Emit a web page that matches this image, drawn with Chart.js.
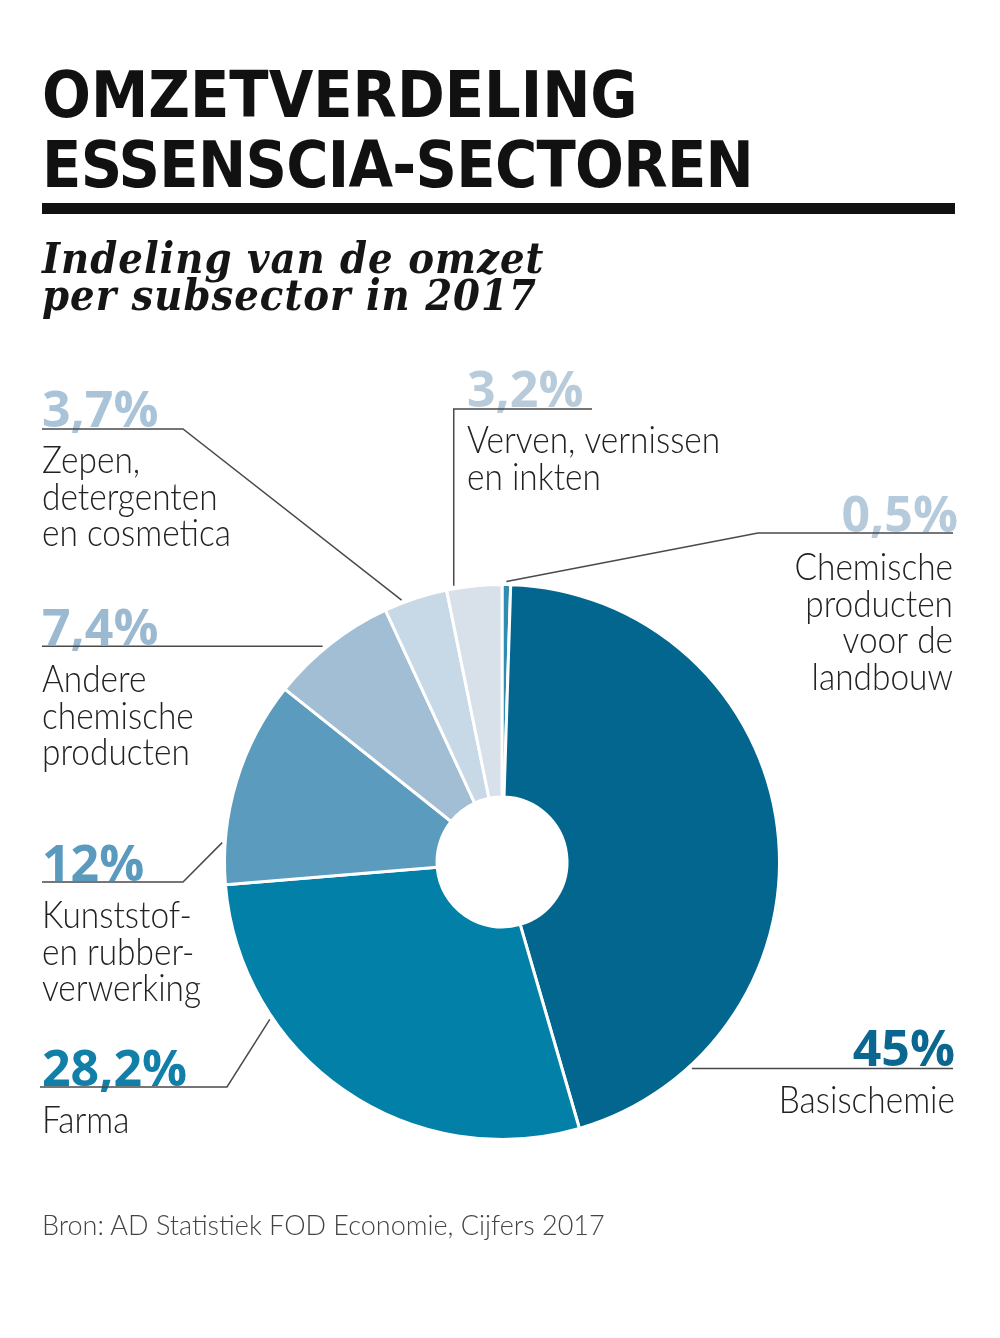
<!DOCTYPE html>
<html>
<head>
<meta charset="utf-8">
<script src="https://cdn.jsdelivr.net/npm/chart.js@4.4.0/dist/chart.umd.min.js"></script>
<style>
	body { margin: 0; background: #fff; }
	#page { position: relative; width: 1000px; height: 1338px; overflow: hidden; }
	#chartBox { position: absolute; left: 0; top: 0; width: 1000px; height: 1338px; }
	.title { position: absolute; left: 42px; top: 60px; margin: 0; color: #111;
		font: bold 64px/70px "DejaVu Sans Condensed", "DejaVu Sans"; font-stretch: condensed; white-space: nowrap; }
	.title span { letter-spacing: -0.7px; }
	.rule { position: absolute; left: 42px; top: 203px; width: 913px; height: 11px; background: #111; }
	.subtitle { position: absolute; left: 42px; top: 240px; margin: 0; color: #151515; letter-spacing: 1px;
		font: italic bold 43px/37px "DejaVu Serif Condensed", "DejaVu Serif", serif; font-stretch: condensed; white-space: nowrap; }
	.source { position: absolute; left: 42px; top: 1210px; margin: 0; color: #444;
		font: 300 27px/30px Lato, sans-serif; white-space: nowrap; }
</style>
</head>
<body>
<div id="page">
	<div id="chartBox"><canvas id="myPieChart"></canvas></div>
	<div class="title">OMZETVERDELING<br><span>ESSENSCIA-SECTOREN</span></div>
	<div class="rule"></div>
	<div class="subtitle">Indeling van de omzet<br>per subsector in 2017</div>
	<div class="source">Bron: AD Statistiek FOD Economie, Cijfers 2017</div>
</div>
<script>
//data, clockwise from the top
const sectors = ['Chemische producten voor de landbouw', 'Basischemie', 'Farma', 'Kunststof- en rubberverwerking',
	'Andere chemische producten', 'Zepen, detergenten en cosmetica', 'Verven, vernissen en inkten'];
const shares = [0.5, 45, 28.2, 12, 7.4, 3.7, 3.2];

const sliceColors = ['#2f8db1', '#03668f', '#0280a8', '#5a9bbe', '#a1bed5', '#c7d8e7', '#d8e0ea'];
const pctColors = ['#b5cadb', '#0b6790', '#117fa8', '#5b9abf', '#9bbad2', '#a9c3d8', '#b8cbdb'];

//label placement: frac = where on the slice the leader starts
const callouts = [
	{ index: 0, frac: 0.5, elbow: [758, 533], lineEnd: 953, align: 'right', x: 958, pctY: 532,
		lines: ['Chemische', 'producten', 'voor de', 'landbouw'], textX: 953, textY: 580 },
	{ index: 1, frac: 0.837, elbow: null, lineEnd: 953, align: 'right', x: 955, pctY: 1066,
		lines: ['Basischemie'], textX: 955, textY: 1113 },
	{ index: 2, frac: 0.71, elbow: [227, 1087], lineEnd: 40, align: 'left', x: 42, pctY: 1086,
		lines: ['Farma'], textX: 42, textY: 1133 },
	{ index: 3, frac: 0.2, elbow: [183, 882], lineEnd: 42, align: 'left', x: 42, pctY: 881,
		lines: ['Kunststof-', 'en rubber-', 'verwerking'], textX: 42, textY: 928 },
	{ index: 4, frac: 0.44, elbow: null, lineEnd: 42, align: 'left', x: 42, pctY: 645,
		lines: ['Andere', 'chemische', 'producten'], textX: 42, textY: 692 },
	{ index: 5, frac: 0.29, elbow: [183, 429], lineEnd: 42, align: 'left', x: 42, pctY: 427,
		lines: ['Zepen,', 'detergenten', 'en cosmetica'], textX: 42, textY: 473 },
	{ index: 6, frac: 0.14, elbow: [null, 409], lineEnd: 592, align: 'left', x: 467, pctY: 407,
		lines: ['Verven, vernissen', 'en inkten'], textX: 467, textY: 453 }
];

function pctText(v) {
	return String(v).replace('.', ',') + '%';
}

//text squeezed horizontally to look like a condensed face
function drawText(ctx, text, x, y, align, font, color, sx) {
	ctx.save();
	ctx.translate(x, y);
	ctx.scale(sx, 1);
	ctx.font = font;
	ctx.fillStyle = color;
	ctx.textAlign = align;
	ctx.textBaseline = 'alphabetic';
	ctx.fillText(text, 0, 0);
	ctx.restore();
}

const calloutPlugin = {
	id: 'callouts',
	afterDraw(chart) {
		const ctx = chart.ctx;
		const arcs = chart.getDatasetMeta(0).data;
		callouts.forEach(c => {
			const arc = arcs[c.index];
			const a = arc.startAngle + (arc.endAngle - arc.startAngle) * c.frac;
			const r = arc.outerRadius + 3;
			const ax = arc.x + r * Math.cos(a);
			const ay = arc.y + r * Math.sin(a);

			drawText(ctx, pctText(shares[c.index]), c.x, c.pctY, c.align, '700 50px "Open Sans"', pctColors[c.index], 1.0);

			ctx.save();
			ctx.strokeStyle = '#4a4a4a';
			ctx.lineWidth = 1.5;
			ctx.beginPath();
			ctx.moveTo(ax, ay);
			let ey = ay;
			if (c.elbow) {
				const ex = c.elbow[0] === null ? ax : c.elbow[0];
				ey = c.elbow[1];
				ctx.lineTo(ex, ey);
			}
			ctx.lineTo(c.lineEnd, ey);
			ctx.stroke();
			ctx.restore();

			c.lines.forEach((line, k) => {
				drawText(ctx, line, c.textX, c.textY + k * 36.5, c.align, '300 38px Lato', '#222', 0.88);
			});
		});
	}
};

const ctx = document.getElementById('myPieChart').getContext('2d');
new Chart(ctx, {
	type: 'doughnut',
	data: {
		labels: sectors,
		datasets: [{
			data: shares,
			backgroundColor: sliceColors,
			borderColor: '#ffffff',
			borderWidth: 3
		}]
	},
	options: {
		responsive: true,
		maintainAspectRatio: false,
		animation: false,
		cutout: 65,
		layout: {
			padding: { left: 223, right: 219, top: 583, bottom: 197 }
		},
		plugins: {
			legend: { display: false },
			tooltip: { enabled: false }
		}
	},
	plugins: [calloutPlugin]
});
</script>
</body>
</html>
